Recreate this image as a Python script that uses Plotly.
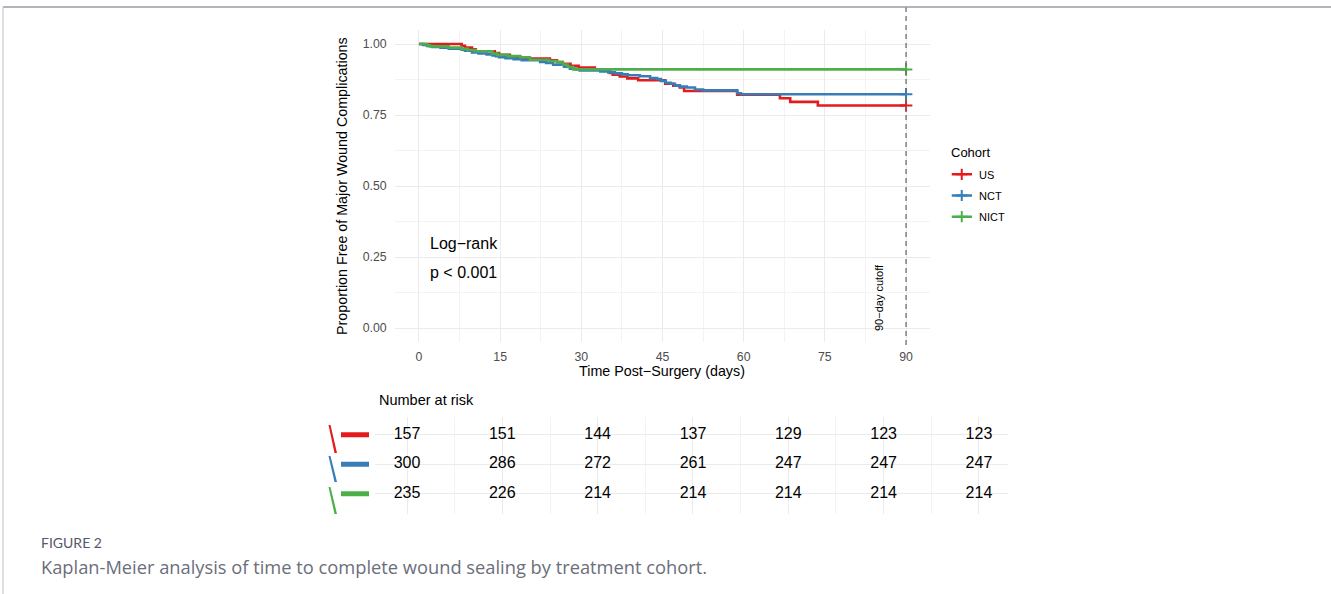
import plotly.graph_objects as go

# ---------------- data ----------------
cohorts = ["US", "NCT", "NICT"]
cohort_colors = ["#E41A1C", "#377EB8", "#4DAF4A"]

day_ticks = [0, 15, 30, 45, 60, 75, 90]
surv_ticks = [0.0, 0.25, 0.50, 0.75, 1.00]

us_time = [0, 7.9, 8.5, 9.8, 10.5, 14.0, 14.8, 16.8, 18.7, 24.2, 25.5, 26.5, 28.0, 29.5,
           32.5, 35.3, 35.8, 37.1, 38.5, 40.5, 45.5, 47.0, 48.2, 49.0, 58.8, 66.7, 68.6, 73.7, 90]
us_surv = [1.0, 0.9936, 0.9873, 0.9809, 0.9745, 0.9682, 0.9618, 0.9554, 0.9490, 0.9427, 0.9363,
           0.9299, 0.9236, 0.9172, 0.9108, 0.8981, 0.8917, 0.8854, 0.8790, 0.8726, 0.8599,
           0.8535, 0.8471, 0.8344, 0.8217, 0.8089, 0.7962, 0.7834, 0.7834]

nct_time = [0, 0.8, 1.5, 2.5, 4.0, 5.5, 7.9, 8.5, 9.8, 11.0, 12.5, 13.6, 14.2, 14.8,
            16.0, 17.5, 19.0, 22.4, 23.5, 24.8, 26.8, 27.9, 29.0, 29.7,
            33.5, 35.0, 36.2, 37.5, 38.6, 40.8, 42.7, 44.0, 44.7,
            45.6, 46.5, 47.3, 48.2, 49.5, 51.0, 52.5, 58.8, 59.5, 90]
nct_surv = [1.0, 0.9967, 0.9933, 0.9900, 0.9867, 0.9833, 0.9800, 0.9767, 0.9700, 0.9667,
            0.9633, 0.9600, 0.9567, 0.9533,
            0.9500, 0.9467, 0.9433, 0.9367, 0.9333, 0.9267, 0.9200, 0.9133, 0.9100, 0.9067,
            0.9033, 0.9000, 0.8967, 0.8933, 0.8900, 0.8867, 0.8800, 0.8767, 0.8700,
            0.8633, 0.8600, 0.8533, 0.8500, 0.8467, 0.8400, 0.8367, 0.8267, 0.8233, 0.8233]

nict_time = [0, 1.5, 2.0, 5.5, 7.9, 9.0, 10.5, 13.6, 14.5,
             16.5, 18.7, 20.5, 24.0, 25.5, 26.6, 27.5, 28.5, 90]
nict_surv = [1.0, 0.9957, 0.9915, 0.9872, 0.9830, 0.9787, 0.9745, 0.9660, 0.9617,
             0.9574, 0.9532, 0.9447, 0.9404, 0.9362, 0.9277, 0.9191, 0.9106, 0.9106]

risk_us = [157, 151, 144, 137, 129, 123, 123]
risk_nct = [300, 286, 272, 261, 247, 247, 247]
risk_nict = [235, 226, 214, 214, 214, 214, 214]

series_time = [us_time, nct_time, nict_time]
series_surv = [us_surv, nct_surv, nict_surv]
risk_rows = [risk_us, risk_nct, risk_nict]
row_pos = [3, 2, 1]
legend_pos = [3, 2, 1]

# ---------------- layout helpers ----------------
W, H = 1331, 594
def px(x):
    return x / W
def py(y):
    return 1 - y / H

FONT = "Liberation Sans, Arial, sans-serif"
fig = go.Figure()

# KM curves
for name, col, t, s in zip(cohorts, cohort_colors, series_time, series_surv):
    fig.add_trace(go.Scatter(x=t, y=s, mode="lines", name=name, showlegend=False,
                             line=dict(color=col, width=2.6, shape="hv"),
                             xaxis="x", yaxis="y"))
for name, col, t, s in zip(cohorts, cohort_colors, series_time, series_surv):
    fig.add_trace(go.Scatter(x=[t[-1]], y=[s[-1]], mode="markers", showlegend=False,
                             marker=dict(symbol="cross-thin", size=9,
                                         line=dict(color=col, width=2)),
                             cliponaxis=False, xaxis="x", yaxis="y"))

# risk table
for rv, yp in zip(risk_rows, row_pos):
    fig.add_trace(go.Scatter(x=day_ticks, y=[yp] * len(day_ticks), mode="text",
                             text=[str(v) for v in rv], showlegend=False,
                             textfont=dict(family=FONT, size=16, color="#000000"),
                             xaxis="x2", yaxis="y2", cliponaxis=False))

# manual legend (drawn on its own small axes)
for name, col, lp in zip(cohorts, cohort_colors, legend_pos):
    fig.add_trace(go.Scatter(x=[0, 1], y=[lp, lp], mode="lines", showlegend=False,
                             line=dict(color=col, width=2.6), xaxis="x3", yaxis="y3",
                             cliponaxis=False))
    fig.add_trace(go.Scatter(x=[0.5], y=[lp], mode="markers", showlegend=False,
                             marker=dict(symbol="cross-thin", size=8,
                                         line=dict(color=col, width=2)),
                             xaxis="x3", yaxis="y3", cliponaxis=False))

grid = "#ebebeb"
minor_grid = "#f3f3f3"
tickfont = dict(family=FONT, size=12.3, color="#4d4d4d")

fig.update_layout(
    width=W, height=H,
    margin=dict(l=0, r=0, t=0, b=0),
    paper_bgcolor="white", plot_bgcolor="white",
    showlegend=False,
    xaxis=dict(domain=[px(394.6), px(930.4)], range=[-4.5, 94.5],
               tickmode="array", tickvals=day_ticks, ticktext=[str(d) for d in day_ticks],
               showgrid=True, gridcolor=grid, gridwidth=1, zeroline=False,
               showline=False, ticks="", tickfont=tickfont, ticklabelstandoff=5,
               minor=dict(tickmode="linear", tick0=0, dtick=7.5, showgrid=True,
                          gridcolor=minor_grid, gridwidth=0.6)),
    yaxis=dict(domain=[py(342.2), py(29.8)], range=[-0.05, 1.05],
               tickmode="array", tickvals=surv_ticks,
               ticktext=["%.2f" % v for v in surv_ticks],
               showgrid=True, gridcolor=grid, gridwidth=1, zeroline=False,
               showline=False, ticks="", tickfont=tickfont, ticklabelstandoff=7,
               minor=dict(tickmode="linear", tick0=0, dtick=0.125, showgrid=True,
                          gridcolor=minor_grid, gridwidth=0.6)),
    xaxis2=dict(domain=[px(374.6), px(1008.2)], range=[-5.1, 94.6], anchor="y2",
                tickmode="array", tickvals=day_ticks, showticklabels=False,
                showgrid=True, gridcolor=grid, gridwidth=1, zeroline=False, ticks="",
                minor=dict(tickmode="linear", tick0=7.5, dtick=15, showgrid=True,
                           gridcolor=minor_grid, gridwidth=0.6)),
    yaxis2=dict(domain=[py(514.3), py(417)], range=[0.3, 3.6], anchor="x2",
                tickmode="array", tickvals=row_pos, showticklabels=False,
                showgrid=True, gridcolor=grid, gridwidth=1, zeroline=False, ticks=""),
    xaxis3=dict(domain=[px(951.5), px(972)], range=[0, 1], anchor="y3", visible=False),
    yaxis3=dict(domain=[py(227.3), py(163.7)], range=[0.5, 3.5], anchor="x3", visible=False),
)

shapes = []
# 90-day cutoff dashed line
shapes.append(dict(type="line", xref="x", yref="paper", x0=90, x1=90,
                   y0=py(345), y1=py(4), line=dict(color="#6e6e6e", width=1.3, dash="5px,4px")))
# risk table colour keys
for col, yp in zip(cohort_colors, row_pos):
    shapes.append(dict(type="line", xref="paper", yref="y2", x0=px(341), x1=px(369),
                       y0=yp, y1=yp, line=dict(color=col, width=5)))
slants = [(425, 453), (456, 482), (487, 514)]
for col, (ya, yb) in zip(cohort_colors, slants):
    path = "M {} {} L {} {} L {} {} L {} {} Z".format(
        px(328.5), py(ya), px(330.5), py(ya), px(337), py(yb), px(334.5), py(yb))
    shapes.append(dict(type="path", xref="paper", yref="paper", path=path,
                       fillcolor=col, line=dict(width=0)))
# page frame
shapes.append(dict(type="line", xref="paper", yref="paper", x0=px(3), x1=1,
                   y0=py(7), y1=py(7), line=dict(color="#9a9aa6", width=1.5)))
shapes.append(dict(type="line", xref="paper", yref="paper", x0=px(3), x1=px(3),
                   y0=py(7), y1=0, line=dict(color="#c6c6ce", width=1.2)))
fig.update_layout(shapes=shapes)

ann = []
def A(text, x, y, size, color="#000000", xanchor="center", yanchor="middle", angle=0, family=FONT):
    ann.append(dict(text=text, x=px(x), y=py(y), xref="paper", yref="paper",
                    showarrow=False, xanchor=xanchor, yanchor=yanchor, textangle=angle,
                    font=dict(family=family, size=size, color=color)))

A("Proportion Free of Major Wound Complications", 342, 186, 14.3, angle=-90)
A("Time Post\u2212Surgery (days)", 662, 371, 14.3)
A("Log\u2212rank", 428, 243, 16, xanchor="left")
A("p < 0.001", 428, 272, 16, xanchor="left")
A("90\u2212day cutoff", 879, 298, 11, angle=-90)
A("Number at risk", 377, 399.5, 14.5, xanchor="left")
A("Cohort", 949, 152.5, 13, xanchor="left")
for name, yy in zip(cohorts, [174.5, 195.7, 216.7]):
    A(name, 977, yy, 11, xanchor="left")
A("FIGURE 2", 39, 542, 14, color="#55586a", xanchor="left", family="Lato, Open Sans, sans-serif")
A("Kaplan-Meier analysis of time to complete wound sealing by treatment cohort.", 39, 566, 18.3,
  color="#6b6e7b", xanchor="left", family="Open Sans, Lato, sans-serif")
fig.update_layout(annotations=ann)

fig.write_html("out.html", config={"displayModeBar": False},
               post_script="document.body.style.margin='0';document.body.style.overflow='hidden';")
